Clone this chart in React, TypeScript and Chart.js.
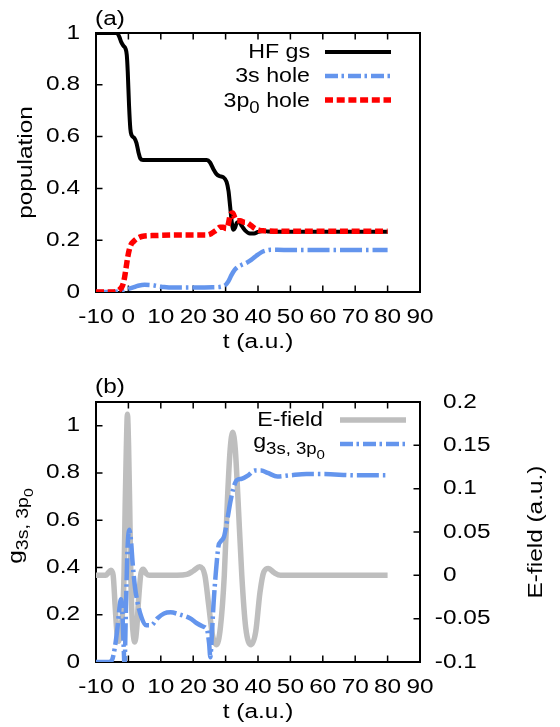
import React, { useEffect, useRef } from "react";
import { Chart, registerables } from "chart.js";
Chart.register(...registerables);

const FONT = '"Liberation Sans", Arial, Helvetica, sans-serif';

// ---------- Panel (a): populations ----------
const hfT = [-10, -5, -3.6, -2.8, -2.2, -1.5, -0.9, -0.5, -0.2, 0.2, 0.6, 1.0, 1.8, 2.5, 3.1, 3.7, 4.5, 10, 20, 24.2, 25.2, 26.2, 27.2, 28.2, 29.3, 30.3, 30.9, 31.4, 31.9, 32.4, 32.9, 33.5, 34.2, 35, 36, 37.5, 38.8, 40, 41.5, 43, 50, 60, 70, 80];
const hfV = [1, 1, 1, 0.985, 0.965, 0.95, 0.94, 0.915, 0.85, 0.72, 0.63, 0.605, 0.595, 0.575, 0.54, 0.515, 0.51, 0.51, 0.51, 0.51, 0.5, 0.475, 0.455, 0.447, 0.443, 0.425, 0.39, 0.33, 0.27, 0.24, 0.248, 0.268, 0.27, 0.255, 0.238, 0.226, 0.226, 0.232, 0.236, 0.234, 0.233, 0.233, 0.233, 0.233];

const s3T = [-10, -5, -3, -1.5, 0, 1.5, 3, 5, 7, 9, 11, 14, 20, 26, 28.5, 29.8, 30.8, 31.8, 32.8, 33.8, 35, 36.5, 38, 39.5, 41, 42.5, 44, 46, 50, 60, 70, 80];
const s3V = [0, 0, 0.002, 0.006, 0.012, 0.018, 0.024, 0.028, 0.027, 0.023, 0.019, 0.017, 0.017, 0.018, 0.02, 0.025, 0.04, 0.065, 0.085, 0.097, 0.105, 0.113, 0.125, 0.14, 0.153, 0.16, 0.163, 0.163, 0.162, 0.162, 0.162, 0.162];

const p3T = [-10, -5, -3.5, -2.5, -1.8, -1.2, -0.7, -0.2, 0.3, 0.9, 1.6, 2.5, 3.5, 5, 8, 15, 24, 25.5, 27, 28.3, 29.3, 30.2, 30.8, 31.5, 32.2, 32.9, 33.6, 34.5, 35.5, 36.5, 37.5, 38.5, 39.5, 40.5, 42, 45, 50, 60, 70, 80];
const p3V = [0, 0, 0.003, 0.012, 0.025, 0.055, 0.095, 0.135, 0.165, 0.185, 0.195, 0.205, 0.212, 0.216, 0.218, 0.22, 0.22, 0.225, 0.238, 0.25, 0.25, 0.245, 0.26, 0.3, 0.305, 0.285, 0.275, 0.275, 0.27, 0.268, 0.26, 0.25, 0.242, 0.238, 0.236, 0.235, 0.235, 0.235, 0.235, 0.235];

// ---------- Panel (b): E-field and g ----------
const eT = [-10, -7, -6.2, -5.4, -4.7, -4.1, -3.5, -3.0, -2.4, -1.85, -1.35, -1.0, -0.65, -0.3, 0.05, 0.4, 0.75, 1.15, 1.55, 2.0, 2.6, 3.2, 3.9, 4.6, 5.5, 6.5, 10, 15, 18, 20, 22, 23.6, 24.8, 26.0, 27.2, 28.4, 29.6, 30.6, 31.4, 32.2, 33.0, 33.8, 35.0, 36.2, 37.9, 39.3, 40.6, 41.8, 43.2, 45, 47, 50, 60, 70, 80];
const eV = [0, 0, 0.003, 0.006, 0.0, -0.035, -0.068, -0.076, -0.06, -0.045, 0.0, 0.08, 0.145, 0.186, 0.15, 0.08, 0.0, -0.05, -0.07, -0.077, -0.06, -0.025, 0.003, 0.007, 0.002, 0, 0, 0, 0.001, 0.005, 0.01, 0.0, -0.035, -0.07, -0.08, -0.06, 0.0, 0.09, 0.145, 0.165, 0.145, 0.09, 0.0, -0.06, -0.08, -0.065, -0.02, 0.004, 0.008, 0.003, 0, 0, 0, 0, 0];

const gT = [-10, -6, -5, -4.2, -3.5, -2.9, -2.3, -1.9, -1.5, -1.2, -0.8, -0.35, 0.25, 0.75, 1.3, 2.0, 2.7, 4.0, 5.5, 7, 9, 11, 13, 16, 19, 21, 23, 24.3, 24.9, 25.3, 25.7, 26.3, 27.0, 27.8, 28.5, 29.5, 30.5, 31.5, 32.5, 33.5, 35, 37, 39, 41, 43, 46, 50, 55, 60, 70, 80];
const gV = [0, 0, 0.01, 0.06, 0.13, 0.21, 0.265, 0.22, 0.08, -0.01, 0.2, 0.45, 0.56, 0.52, 0.42, 0.32, 0.26, 0.19, 0.155, 0.155, 0.185, 0.205, 0.21, 0.2, 0.185, 0.165, 0.15, 0.135, 0.08, 0.02, 0.1, 0.25, 0.38, 0.49, 0.51, 0.53, 0.6, 0.68, 0.74, 0.77, 0.775, 0.79, 0.81, 0.81, 0.8, 0.785, 0.79, 0.795, 0.795, 0.79, 0.79];

// ---------- ticks ----------
const tTicks = [-10, 0, 10, 20, 30, 40, 50, 60, 70, 80, 90];
const popTicks = [0, 0.2, 0.4, 0.6, 0.8, 1];
const gTicks = [0, 0.2, 0.4, 0.6, 0.8, 1];
const eTicks = [-0.1, -0.05, 0, 0.05, 0.1, 0.15, 0.2];

const BLUE = "#6495ED";
const RED = "#FF0000";
const GREY = "#BEBEBE";
const TL = 6.5;
const FS = 20; // font size
const SX = 1.22; // horizontal glyph stretch of the reference font
const SXL = 1.16; // legend stretch

const pts = (t: number[], v: number[]) => t.map((x, i) => ({ x, y: v[i] }));
const fmt = (v: number) => String(Math.round(v * 100) / 100);
const setTicks = (arr: number[]) => (s: any) => {
  s.ticks = arr.map((v) => ({ value: v }));
};

type Part = { t: string; l: number };
const SIZES = [20, 16, 13];
const OFFS = [0, 6, 11];

function drawRich(ctx: CanvasRenderingContext2D, parts: Part[], x: number, y: number, align: string, rotate: boolean, sx: number) {
  ctx.save();
  ctx.translate(x, y);
  if (rotate) ctx.rotate(-Math.PI / 2);
  ctx.scale(sx, 1);
  let total = 0;
  const widths = parts.map((p) => {
    ctx.font = `${SIZES[p.l]}px ${FONT}`;
    const w = ctx.measureText(p.t).width;
    total += w;
    return w;
  });
  let cx = align === "right" ? -total : align === "center" ? -total / 2 : 0;
  ctx.fillStyle = "#000";
  ctx.textAlign = "left";
  ctx.textBaseline = "alphabetic";
  parts.forEach((p, i) => {
    ctx.font = `${SIZES[p.l]}px ${FONT}`;
    ctx.fillText(p.t, cx, OFFS[p.l]);
    cx += widths[i];
  });
  ctx.restore();
}

function drawStr(ctx: CanvasRenderingContext2D, text: string, x: number, y: number, align: CanvasTextAlign, rotate = false, sx = SX, size = FS) {
  ctx.save();
  ctx.translate(x, y);
  if (rotate) ctx.rotate(-Math.PI / 2);
  ctx.scale(sx, 1);
  ctx.font = `${size}px ${FONT}`;
  ctx.fillStyle = "#000";
  ctx.textAlign = align;
  ctx.textBaseline = "middle";
  ctx.fillText(text, 0, 0);
  ctx.restore();
}

function drawSample(ctx: CanvasRenderingContext2D, x1: number, x2: number, y: number, color: string, width: number, dash: number[]) {
  ctx.save();
  ctx.strokeStyle = color;
  ctx.lineWidth = width;
  ctx.lineCap = "butt";
  ctx.setLineDash(dash);
  ctx.beginPath();
  ctx.moveTo(x1, y);
  ctx.lineTo(x2, y);
  ctx.stroke();
  ctx.restore();
}

function frame(chart: any, rightAxis: string | null) {
  const { ctx, chartArea: a, scales } = chart;
  ctx.save();
  ctx.setLineDash([]);
  ctx.strokeStyle = "#000";
  ctx.lineWidth = 2;
  ctx.strokeRect(a.left, a.top, a.right - a.left, a.bottom - a.top);
  ctx.lineWidth = 1.5;
  ctx.beginPath();
  for (const tk of scales.x.ticks) {
    const px = scales.x.getPixelForValue(tk.value);
    ctx.moveTo(px, a.bottom);
    ctx.lineTo(px, a.bottom - TL);
    ctx.moveTo(px, a.top);
    ctx.lineTo(px, a.top + TL);
  }
  for (const tk of scales.y.ticks) {
    const py = scales.y.getPixelForValue(tk.value);
    ctx.moveTo(a.left, py);
    ctx.lineTo(a.left + TL, py);
  }
  if (rightAxis) {
    const s = scales[rightAxis];
    for (const tk of s.ticks) {
      const py = s.getPixelForValue(tk.value);
      ctx.moveTo(a.right, py);
      ctx.lineTo(a.right - TL, py);
    }
  }
  ctx.stroke();
  ctx.restore();
}

// tick labels positioned by the chart's own scales
function tickLabels(chart: any, rightAxis: string | null) {
  const { ctx, chartArea: a, scales } = chart;
  for (const tk of scales.x.ticks) {
    drawStr(ctx, fmt(tk.value), scales.x.getPixelForValue(tk.value), a.bottom + 25, "center");
  }
  for (const tk of scales.y.ticks) {
    drawStr(ctx, fmt(tk.value), a.left - 16, scales.y.getPixelForValue(tk.value), "right");
  }
  if (rightAxis) {
    const s = scales[rightAxis];
    ctx.save();
    ctx.font = `${FS}px ${FONT}`;
    const mw = ctx.measureText("-").width * SX;
    ctx.restore();
    for (const tk of s.ticks) {
      const lab = fmt(tk.value);
      const x0 = a.right + 23 - (lab.startsWith("-") ? mw : 0);
      drawStr(ctx, lab, x0, s.getPixelForValue(tk.value), "left");
    }
  }
}

const xAxis = (height: number) => ({
  type: "linear",
  min: -10,
  max: 90,
  bounds: "data",
  afterBuildTicks: setTicks(tTicks),
  afterFit: (s: any) => {
    s.height = height;
  },
  grid: { display: false, drawTicks: false },
  border: { display: false },
  ticks: { display: false },
});

const yAxis = (min: number, max: number, ticks: number[], width: number, position: string) => ({
  type: "linear",
  position,
  min,
  max,
  bounds: "data",
  afterBuildTicks: setTicks(ticks),
  afterFit: (s: any) => {
    s.width = width;
  },
  grid: { display: false, drawTicks: false },
  border: { display: false },
  ticks: { display: false },
});

const lineDs = (label: string, data: any[], color: string, width: number, dash: number[], order: number, yAxisID = "y") => ({
  label,
  data,
  borderColor: color,
  backgroundColor: color,
  borderWidth: width,
  borderDash: dash,
  borderCapStyle: "butt",
  pointRadius: 0,
  fill: false,
  cubicInterpolationMode: "monotone",
  order,
  yAxisID,
});

const DASHDOT_DATA = [22, 4, 2.5, 4];
const DASHDOT_KEY = [13, 3.5, 2.5, 4];
const DASH_RED = [8, 3.7];

export default function App() {
  const refA = useRef<HTMLCanvasElement>(null);
  const refB = useRef<HTMLCanvasElement>(null);

  useEffect(() => {
    const decorA = {
      id: "decorA",
      beforeDatasetsDraw(chart: any) {
        frame(chart, null);
      },
      afterDraw(chart: any) {
        const ctx = chart.ctx as CanvasRenderingContext2D;
        tickLabels(chart, null);
        drawStr(ctx, "t (a.u.)", 258, 342, "center");
        drawStr(ctx, "population", 26, 162.5, "center", true);
        drawStr(ctx, "(a)", 95, 19, "left");
        drawStr(ctx, "HF gs", 310, 52, "right", false, SXL);
        drawSample(ctx, 325, 391, 52, "#000", 4, []);
        drawStr(ctx, "3s hole", 310, 76, "right", false, SXL);
        drawSample(ctx, 325, 391, 76, BLUE, 4.5, DASHDOT_KEY);
        drawRich(ctx, [{ t: "3p", l: 0 }, { t: "0", l: 1 }, { t: " hole", l: 0 }], 310, 107, "right", false, SXL);
        drawSample(ctx, 325, 391, 100, RED, 5.5, DASH_RED);
      },
    };

    const decorB = {
      id: "decorB",
      beforeDatasetsDraw(chart: any) {
        frame(chart, "y2");
      },
      afterDraw(chart: any) {
        const ctx = chart.ctx as CanvasRenderingContext2D;
        tickLabels(chart, "y2");
        drawStr(ctx, "t (a.u.)", 258, 349, "center");
        drawStr(ctx, "(b)", 95, 24, "left");
        drawStr(ctx, "E-field", 323, 57, "right", false, SXL);
        drawSample(ctx, 340, 406, 57, GREY, 5.5, []);
        drawRich(ctx, [{ t: "g", l: 0 }, { t: "3s, 3p", l: 1 }, { t: "0", l: 2 }], 325, 85, "right", false, SXL);
        drawSample(ctx, 340, 406, 81, BLUE, 4.5, DASHDOT_KEY);
        drawRich(ctx, [{ t: "g", l: 0 }, { t: "3s, 3p", l: 1 }, { t: "0", l: 2 }], 22, 163, "center", true, SX);
        drawStr(ctx, "E-field (a.u.)", 536, 169, "center", true);
      },
    };

    const chartA = new Chart(refA.current as HTMLCanvasElement, {
      type: "line",
      data: {
        datasets: [
          lineDs("HF gs", pts(hfT, hfV), "#000", 4, [], 3),
          lineDs("3s hole", pts(s3T, s3V), BLUE, 4.5, DASHDOT_DATA, 2),
          lineDs("3p0 hole", pts(p3T, p3V), RED, 5.5, DASH_RED, 1),
        ] as any,
      },
      options: {
        responsive: false,
        animation: false,
        devicePixelRatio: 1,
        layout: { padding: { top: 33, right: 140, left: 0, bottom: 0 } },
        plugins: { legend: { display: false }, tooltip: { enabled: false } },
        scales: {
          x: xAxis(71),
          y: yAxis(0, 1, popTicks, 96, "left"),
        } as any,
      },
      plugins: [decorA],
    } as any);

    const chartB = new Chart(refB.current as HTMLCanvasElement, {
      type: "line",
      data: {
        datasets: [
          lineDs("E-field", pts(eT, eV), GREY, 5.5, [], 2, "y2"),
          lineDs("g3s, 3p0", pts(gT, gV), BLUE, 4.5, DASHDOT_DATA, 1, "y"),
        ] as any,
      },
      options: {
        responsive: false,
        animation: false,
        devicePixelRatio: 1,
        layout: { padding: { top: 39, right: 0, left: 0, bottom: 0 } },
        plugins: { legend: { display: false }, tooltip: { enabled: false } },
        scales: {
          x: xAxis(65),
          y: yAxis(0, 1.1, gTicks, 96, "left"),
          y2: yAxis(-0.1, 0.2, eTicks, 140, "right"),
        } as any,
      },
      plugins: [decorB],
    } as any);

    return () => {
      chartA.destroy();
      chartB.destroy();
    };
  }, []);

  return (
    <div style={{ position: "absolute", left: 0, top: 0, width: 560, height: 727, background: "#fff" }}>
      <canvas ref={refA} width={560} height={363} style={{ position: "absolute", left: 0, top: 0, width: 560, height: 363 }} />
      <canvas ref={refB} width={560} height={364} style={{ position: "absolute", left: 0, top: 363, width: 560, height: 364 }} />
    </div>
  );
}
